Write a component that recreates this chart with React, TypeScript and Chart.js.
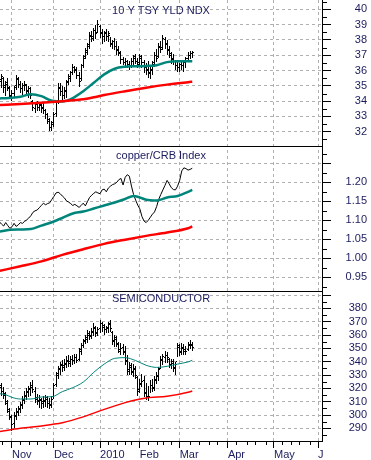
import React, { useEffect, useRef } from 'react';
import { Chart, registerables, BarController } from 'chart.js';

// OHLC bars: floating high-low bars from the bar controller, drawn crisp with open/close ticks
class OhlcController extends BarController {
  static id = 'ohlc';
  static defaults = { ...(BarController as any).defaults };
  static overrides = (BarController as any).overrides;
  draw() {
    const self: any = this;
    const meta = self._cachedMeta;
    const ctx: CanvasRenderingContext2D = self.chart.ctx;
    const vScale = meta.vScale;
    const ds = self.getDataset();
    const raws = ds.data;
    ctx.save();
    ctx.fillStyle = ds.backgroundColor || '#000';
    meta.data.forEach((el: any, i: number) => {
      const raw = raws[i];
      const x0 = Math.round(el.x - 0.5);
      const top = Math.round(Math.min(el.y, el.base));
      const bottom = Math.round(Math.max(el.y, el.base));
      ctx.fillRect(x0, top, 1, Math.max(1, bottom - top + 1));
      const yo = Math.round(vScale.getPixelForValue(raw.o) - 0.5);
      const yc = Math.round(vScale.getPixelForValue(raw.c) - 0.5);
      ctx.fillRect(x0 - 1, yo, 1, 1);
      ctx.fillRect(x0 + 1, yc, 1, 1);
    });
    ctx.restore();
  }
}

Chart.register(...registerables, OhlcController);

// ---------- x axis (trading-day index) ----------
const MONTH_TICKS = [6, 26, 48, 67, 86, 109, 131, 152];
const MONTH_LABELS = ['Nov', 'Dec', '2010', 'Feb', 'Mar', 'Apr', 'May', 'J'];
const WEEK_TICKS = [1, 10, 14, 18, 22, 30, 35, 39, 44, 52, 56, 60, 63, 71, 75, 78, 82, 91, 95, 100, 104, 113, 118, 122, 127, 135, 139, 143, 148];

// ---------- panel 1: 10 Y TSY YLD NDX ----------
const TNX_OPEN = [
  35.2, 35.3, 35.5, 35.0, 35.2, 34.8, 34.3, 34.5, 35.0, 35.5,
  35.1, 34.8, 35.0, 35.0, 34.6, 34.8, 34.0, 33.5, 33.8, 33.6,
  33.7, 33.6, 33.4, 33.1, 32.7, 32.3, 32.6, 33.2, 34.0, 34.8,
  34.6, 34.4, 34.6, 35.3, 35.5, 35.9, 36.2, 36.0, 35.7, 35.5,
  36.3, 36.9, 37.2, 37.7, 38.2, 38.2, 38.6, 38.5, 38.9, 38.5,
  38.2, 38.4, 38.2, 38.3, 37.7, 37.9, 37.6, 37.4, 37.1, 36.7,
  36.5, 36.6, 36.4, 36.3, 36.6, 36.9, 36.6, 36.5, 36.8, 36.5,
  36.2, 36.1, 35.8, 36.1, 36.5, 37.0, 36.9, 37.5, 37.5, 38.0,
  37.8, 37.4, 37.0, 36.8, 36.6, 36.3, 36.2, 36.4, 36.3, 36.5,
  36.8, 37.0, 37.1,
];
const TNX_HIGH = [
  35.9, 35.8, 35.6, 35.3, 35.5, 35.0, 34.7, 35.0, 35.7, 35.6,
  35.3, 35.2, 35.3, 35.1, 35.0, 34.9, 34.1, 33.9, 34.0, 33.9,
  33.8, 33.9, 33.5, 33.2, 32.9, 32.7, 33.3, 34.1, 35.2, 35.2,
  35.0, 34.9, 35.4, 35.8, 36.0, 36.4, 36.3, 36.2, 35.9, 36.4,
  37.0, 37.5, 37.8, 38.5, 38.6, 38.8, 39.0, 39.3, 39.0, 38.7,
  38.6, 38.7, 38.6, 38.2, 38.0, 38.1, 37.9, 37.6, 37.3, 36.9,
  36.8, 36.7, 36.6, 36.8, 37.0, 37.1, 36.8, 37.1, 37.0, 36.7,
  36.5, 36.6, 36.2, 36.6, 37.2, 37.4, 37.8, 37.9, 38.3, 38.2,
  38.0, 37.6, 37.2, 37.1, 36.7, 36.6, 36.5, 36.7, 36.6, 36.9,
  37.2, 37.3, 37.3,
];
const TNX_LOW = [
  35.0, 34.9, 34.6, 34.4, 34.7, 34.2, 34.1, 34.3, 34.8, 34.9,
  34.6, 34.5, 34.7, 34.5, 34.3, 34.2, 33.4, 33.3, 33.4, 33.4,
  33.3, 33.2, 32.9, 32.6, 32.1, 32.1, 32.4, 33.0, 33.9, 34.4,
  34.1, 34.2, 34.3, 35.1, 35.3, 35.8, 35.9, 35.5, 35.0, 35.4,
  36.2, 36.8, 37.1, 37.5, 37.9, 38.0, 38.1, 38.5, 38.2, 37.8,
  37.9, 38.0, 37.9, 37.6, 37.5, 37.4, 37.1, 37.0, 36.5, 36.4,
  36.2, 36.2, 36.1, 36.2, 36.3, 36.5, 36.2, 36.3, 36.2, 35.9,
  35.8, 35.6, 35.5, 35.8, 36.3, 36.6, 36.9, 37.2, 37.4, 37.5,
  37.1, 36.9, 36.5, 36.4, 36.1, 36.0, 36.0, 36.1, 36.0, 36.2,
  36.6, 36.8, 36.9,
];
const TNX_CLOSE = [
  35.4, 35.6, 34.9, 35.1, 34.9, 34.4, 34.5, 34.9, 35.4, 35.1,
  34.8, 35.0, 35.1, 34.7, 34.8, 34.4, 33.6, 33.8, 33.6, 33.8,
  33.5, 33.4, 33.1, 32.8, 32.3, 32.5, 33.1, 33.9, 34.9, 34.6,
  34.4, 34.7, 35.2, 35.6, 35.9, 36.2, 36.1, 35.7, 35.3, 36.3,
  36.8, 37.3, 37.6, 38.3, 38.1, 38.6, 38.4, 39.0, 38.4, 38.2,
  38.5, 38.2, 38.4, 37.8, 37.9, 37.6, 37.3, 37.2, 36.7, 36.5,
  36.6, 36.4, 36.3, 36.6, 36.8, 36.6, 36.4, 36.9, 36.5, 36.2,
  36.0, 35.9, 36.0, 36.4, 37.0, 36.8, 37.6, 37.4, 38.1, 37.7,
  37.3, 37.1, 36.7, 36.6, 36.3, 36.2, 36.4, 36.3, 36.5, 36.8,
  37.0, 37.1, 37.2,
];
const TNX_MA50_DAYS = [0, 3, 6, 10, 15, 20, 25, 30, 35, 40, 45, 50, 55, 60, 65, 70, 75, 80, 85, 90, 92];
const TNX_MA50 = [34.18, 34.19, 34.22, 34.29, 34.45, 34.33, 34.03, 33.98, 34.2, 34.65, 35.2, 35.75, 36.12, 36.25, 36.28, 36.3, 36.35, 36.55, 36.6, 36.6, 36.6];
const TNX_MA200_DAYS = [0, 10, 20, 30, 40, 45, 50, 60, 70, 80, 90, 92];
const TNX_MA200 = [33.75, 33.82, 33.9, 34.0, 34.12, 34.25, 34.4, 34.65, 34.88, 35.08, 35.24, 35.27];
const Y1_TICKS = [32, 33, 34, 35, 36, 37, 38, 39, 40];
const Y1_LABELS = ['32', '33', '34', '35', '36', '37', '38', '39', '40'];
const Y1_MINOR = [31.5, 32.5, 33.5, 34.5, 35.5, 36.5, 37.5, 38.5, 39.5, 40.5];

// ---------- panel 2: copper/CRB Index ----------
const CRB = [
  1.096, 1.090, 1.085, 1.094, 1.086, 1.079, 1.083, 1.092, 1.084, 1.088,
  1.094, 1.092, 1.097, 1.101, 1.106, 1.112, 1.121, 1.125, 1.127, 1.133,
  1.139, 1.145, 1.141, 1.144, 1.146, 1.155, 1.163, 1.172, 1.174, 1.170,
  1.164, 1.159, 1.151, 1.148, 1.144, 1.139, 1.142, 1.138, 1.134, 1.139,
  1.145, 1.138, 1.149, 1.160, 1.166, 1.171, 1.175, 1.172, 1.170, 1.180,
  1.182, 1.175, 1.185, 1.190, 1.194, 1.196, 1.200, 1.207, 1.210, 1.193,
  1.213, 1.220, 1.216, 1.190, 1.168, 1.153, 1.140, 1.130, 1.110, 1.098,
  1.094, 1.100, 1.108, 1.116, 1.122, 1.136, 1.155, 1.168, 1.180, 1.192,
  1.205, 1.196, 1.186, 1.181, 1.180, 1.190, 1.205, 1.230, 1.238, 1.236,
  1.232, 1.234, 1.237,
];
const CRB_MA50_DAYS = [0, 5, 10, 15, 20, 25, 30, 35, 40, 45, 50, 55, 60, 64, 67, 70, 75, 80, 85, 90, 92];
const CRB_MA50 = [1.070, 1.075, 1.076, 1.077, 1.086, 1.095, 1.106, 1.118, 1.123, 1.131, 1.139, 1.147, 1.156, 1.164, 1.160, 1.154, 1.152, 1.160, 1.164, 1.175, 1.180];
const CRB_MA200_DAYS = [0, 10, 20, 30, 40, 50, 60, 70, 80, 90, 92];
const CRB_MA200 = [0.967, 0.979, 0.992, 1.009, 1.024, 1.038, 1.049, 1.059, 1.068, 1.079, 1.084];
const Y2_TICKS = [0.95, 1.0, 1.05, 1.1, 1.15, 1.2, 1.25];
const Y2_LABELS = ['0.95', '1.00', '1.05', '1.10', '1.15', '1.20', ''];
const Y2_MINOR = [0.925, 0.975, 1.025, 1.075, 1.125, 1.175, 1.225, 1.275];

// ---------- panel 3: SEMICONDUCTOR ----------
const SOX_OPEN = [
  320, 321, 318, 315, 309, 303, 298, 294, 300, 303,
  304, 308, 311, 314, 318, 319, 321, 318, 312, 310,
  311, 310, 310, 312, 309, 308, 314, 323, 331, 335,
  338, 337, 338, 341, 340, 342, 341, 343, 342, 349,
  352, 356, 358, 360, 360, 362, 365, 362, 365, 369,
  366, 364, 365, 369, 362, 355, 357, 353, 348, 351,
  347, 340, 333, 336, 332, 334, 328, 319, 323, 326,
  316, 314, 314, 322, 320, 327, 329, 335, 341, 343,
  345, 342, 337, 339, 335, 340, 351, 348, 350, 348,
  349, 352, 353,
];
const SOX_HIGH = [
  325, 324, 321, 317, 311, 305, 300, 302, 305, 307,
  310, 314, 318, 320, 322, 325, 326, 321, 316, 315,
  313, 314, 315, 314, 313, 314, 324, 332, 337, 340,
  341, 342, 344, 345, 344, 345, 346, 346, 350, 354,
  357, 360, 364, 363, 365, 369, 367, 366, 371, 370,
  368, 367, 370, 371, 363, 360, 359, 355, 354, 353,
  352, 345, 340, 339, 338, 337, 329, 327, 331, 329,
  324, 322, 326, 327, 329, 332, 336, 344, 346, 348,
  347, 343, 342, 342, 340, 354, 353, 354, 353, 352,
  355, 356, 355,
];
const SOX_LOW = [
  316, 315, 313, 308, 302, 297, 289, 291, 297, 300,
  302, 305, 309, 312, 314, 315, 317, 310, 308, 306,
  305, 306, 307, 306, 305, 306, 313, 322, 328, 331,
  333, 334, 336, 337, 337, 338, 339, 340, 341, 346,
  351, 354, 355, 357, 358, 360, 359, 360, 362, 363,
  361, 362, 362, 363, 353, 352, 352, 347, 346, 346,
  338, 331, 331, 331, 329, 328, 315, 317, 322, 314,
  312, 311, 317, 318, 319, 324, 326, 335, 338, 340,
  340, 336, 335, 333, 331, 344, 345, 346, 346, 346,
  349, 350, 349,
];
const SOX_CLOSE = [
  322, 318, 316, 310, 304, 299, 293, 299, 302, 305,
  307, 312, 315, 317, 320, 322, 319, 313, 311, 312,
  309, 311, 313, 309, 307, 312, 322, 330, 334, 337,
  336, 339, 340, 339, 342, 341, 343, 341, 348, 352,
  355, 357, 361, 359, 363, 366, 361, 364, 369, 367,
  364, 366, 368, 365, 356, 358, 354, 349, 350, 348,
  341, 334, 337, 333, 335, 330, 318, 324, 325, 317,
  314, 313, 322, 321, 326, 330, 334, 342, 344, 345,
  343, 338, 340, 336, 338, 352, 347, 351, 349, 348,
  353, 352, 351,
];
const SOX_MA50_DAYS = [0, 3, 6, 10, 15, 20, 25, 30, 35, 40, 45, 50, 55, 60, 65, 70, 75, 80, 85, 90, 92];
const SOX_MA50 = [316, 315.2, 313.2, 312, 312, 313.5, 313.7, 317.5, 320.5, 324.7, 332, 338.2, 342.5, 343, 340.8, 337.3, 335.7, 336.5, 338.2, 339.8, 341];
const SOX_MA200_DAYS = [0, 10, 20, 25, 30, 40, 50, 60, 70, 80, 90, 92];
const SOX_MA200 = [287.5, 290, 291.8, 292.9, 294.2, 298.6, 304.2, 309.3, 312.8, 314, 317, 318];
const Y3_TICKS = [290, 300, 310, 320, 330, 340, 350, 360, 370, 380, 390];
const Y3_LABELS = ['290', '300', '310', '320', '330', '340', '350', '360', '370', '380', ''];
const Y3_MINOR = [285, 295, 305, 315, 325, 335, 345, 355, 365, 375, 385];

const PANELS = [
  { id: 'y1', title: '10 Y TSY YLD NDX', titleOffset: 11.2, minor: Y1_MINOR },
  { id: 'y2', title: 'copper/CRB Index', titleOffset: 9.8, minor: Y2_MINOR },
  { id: 'y3', title: 'SEMICONDUCTOR', titleOffset: 8, minor: Y3_MINOR },
];

const NAVY = '#1b1b5e';
const TEAL = '#00857b';
const RED = '#ff0000';
const GRID = '#b0b0b0';
const FONT = '"Liberation Sans", Arial, sans-serif';

export default function App() {
  const ref = useRef<HTMLCanvasElement | null>(null);

  useEffect(() => {
    const canvas = ref.current;
    if (!canvas) return;

    const series = (vals: number[]) => vals.map((y, i) => ({ x: i, y }));
    const curve = (xs: number[], ys: number[]) => xs.map((x, i) => ({ x, y: ys[i] }));
    const ohlc = (o: number[], h: number[], l: number[], c: number[]) =>
      o.map((ov, i) => ({ x: i, y: [l[i], h[i]], o: ov, c: c[i] }));

    const lineDs = (data: any[], yAxisID: string, color: string, width: number) => ({
      type: 'line' as const,
      data,
      yAxisID,
      borderColor: color,
      backgroundColor: color,
      borderWidth: width,
      pointRadius: 0,
      fill: false,
      cubicInterpolationMode: 'monotone' as const,
    });
    const ohlcDs = (data: any[], yAxisID: string) => ({
      type: 'ohlc',
      data,
      yAxisID,
      backgroundColor: '#000',
      borderWidth: 0,
      barThickness: 1,
      grouped: false,
    });

    const panelDeco = {
      id: 'panelDeco',
      afterDraw(chart: any) {
        const ctx = chart.ctx;
        const ca = chart.chartArea;
        ctx.save();
        ctx.strokeStyle = '#000';
        ctx.lineWidth = 1;
        ['y2', 'y3'].forEach((id) => {
          const y = Math.round(chart.scales[id].top) + 0.5;
          ctx.beginPath();
          ctx.moveTo(ca.left, y);
          ctx.lineTo(ca.right, y);
          ctx.stroke();
        });
        PANELS.forEach((p) => {
          const s = chart.scales[p.id];
          p.minor.forEach((v: number) => {
            const y = Math.round(s.getPixelForValue(v)) + 0.5;
            if (y < s.top || y > s.bottom) return;
            ctx.beginPath();
            ctx.moveTo(s.left, y);
            ctx.lineTo(s.left + 5, y);
            ctx.stroke();
          });
        });
        const xs = chart.scales.x;
        WEEK_TICKS.forEach((v) => {
          const x = Math.round(xs.getPixelForValue(v)) + 0.5;
          ctx.beginPath();
          ctx.moveTo(x, xs.top);
          ctx.lineTo(x, xs.top + 4);
          ctx.stroke();
        });
        ctx.font = `11px ${FONT}`;
        ctx.fillStyle = NAVY;
        ctx.textAlign = 'center';
        ctx.textBaseline = 'middle';
        PANELS.forEach((p) => {
          const s = chart.scales[p.id];
          ctx.fillText(p.title, (ca.left + ca.right) / 2, s.top + p.titleOffset);
        });
        ctx.restore();
      },
    };

    const yScale = (
      weight: number,
      min: number,
      max: number,
      ticks: number[],
      labels: string[],
      padding: number
    ) => ({
      type: 'linear' as const,
      position: 'right' as const,
      stack: 'panels',
      stackWeight: weight,
      min,
      max,
      bounds: 'data' as const,
      afterBuildTicks: (a: any) => {
        a.ticks = ticks.map((v) => ({ value: v }));
      },
      afterFit: (a: any) => {
        a.width = 45;
        a.paddingTop = 0;
        a.paddingBottom = 0;
      },
      ticks: {
        autoSkip: false,
        crossAlign: 'far' as const,
        padding,
        color: NAVY,
        font: { size: 11, family: FONT },
        callback: (_v: any, i: number) => labels[i],
      },
      grid: {
        color: GRID,
        lineWidth: 1,
        tickColor: '#000',
        tickLength: 9,
        tickBorderDash: [],
      },
      border: { display: true, color: '#000', width: 1, dash: [3, 3] },
    });

    const chart = new Chart(canvas, {
      type: 'line',
      data: {
        datasets: [
          lineDs(curve(TNX_MA200_DAYS, TNX_MA200), 'y1', RED, 2.5),
          lineDs(curve(TNX_MA50_DAYS, TNX_MA50), 'y1', TEAL, 2.5),
          ohlcDs(ohlc(TNX_OPEN, TNX_HIGH, TNX_LOW, TNX_CLOSE), 'y1'),

          lineDs(curve(CRB_MA200_DAYS, CRB_MA200), 'y2', RED, 2.5),
          lineDs(curve(CRB_MA50_DAYS, CRB_MA50), 'y2', TEAL, 2.5),
          { ...lineDs(series(CRB), 'y2', '#000', 1), cubicInterpolationMode: 'default' as const, tension: 0 },

          lineDs(curve(SOX_MA200_DAYS, SOX_MA200), 'y3', RED, 1.5),
          lineDs(curve(SOX_MA50_DAYS, SOX_MA50), 'y3', TEAL, 1),
          ohlcDs(ohlc(SOX_OPEN, SOX_HIGH, SOX_LOW, SOX_CLOSE), 'y3'),
        ] as any,
      },
      options: {
        animation: false,
        responsive: false,
        events: [],
        layout: { padding: { top: 0, right: 4, bottom: 0, left: 0 } },
        plugins: {
          legend: { display: false },
          tooltip: { enabled: false },
          title: { display: false },
        },
        scales: {
          x: {
            type: 'linear',
            position: 'bottom',
            min: 0.28,
            max: 153.9,
            bounds: 'data',
            offset: false,
            afterBuildTicks: (a: any) => {
              a.ticks = MONTH_TICKS.map((v) => ({ value: v }));
            },
            afterFit: (a: any) => {
              a.height = 19;
              a.paddingLeft = 0;
              a.paddingRight = 0;
            },
            ticks: {
              autoSkip: false,
              maxRotation: 0,
              minRotation: 0,
              align: 'start',
              padding: 0,
              color: NAVY,
              font: { size: 11, family: FONT },
              callback: (_v: any, i: number) => MONTH_LABELS[i],
            },
            grid: {
              color: GRID,
              lineWidth: 1,
              tickColor: '#000',
              tickLength: 7,
              tickBorderDash: [],
              offset: false,
            },
            border: { display: true, color: '#000', width: 1, dash: [3, 3] },
          },
          y1: yScale(146, 31.07, 40.61, Y1_TICKS, Y1_LABELS, 23.8),
          y2: yScale(145, 0.914, 1.2955, Y2_TICKS, Y2_LABELS, 14.6),
          y3: yScale(150, 280.5, 393, Y3_TICKS, Y3_LABELS, 17.6),
        } as any,
      },
      plugins: [panelDeco],
    });

    return () => chart.destroy();
  }, []);

  return (
    <div style={{ position: 'absolute', left: 0, top: 0, width: 371, height: 460, background: '#fff' }}>
      <canvas ref={ref} width={371} height={460} style={{ display: 'block', width: 371, height: 460 }} />
    </div>
  );
}
